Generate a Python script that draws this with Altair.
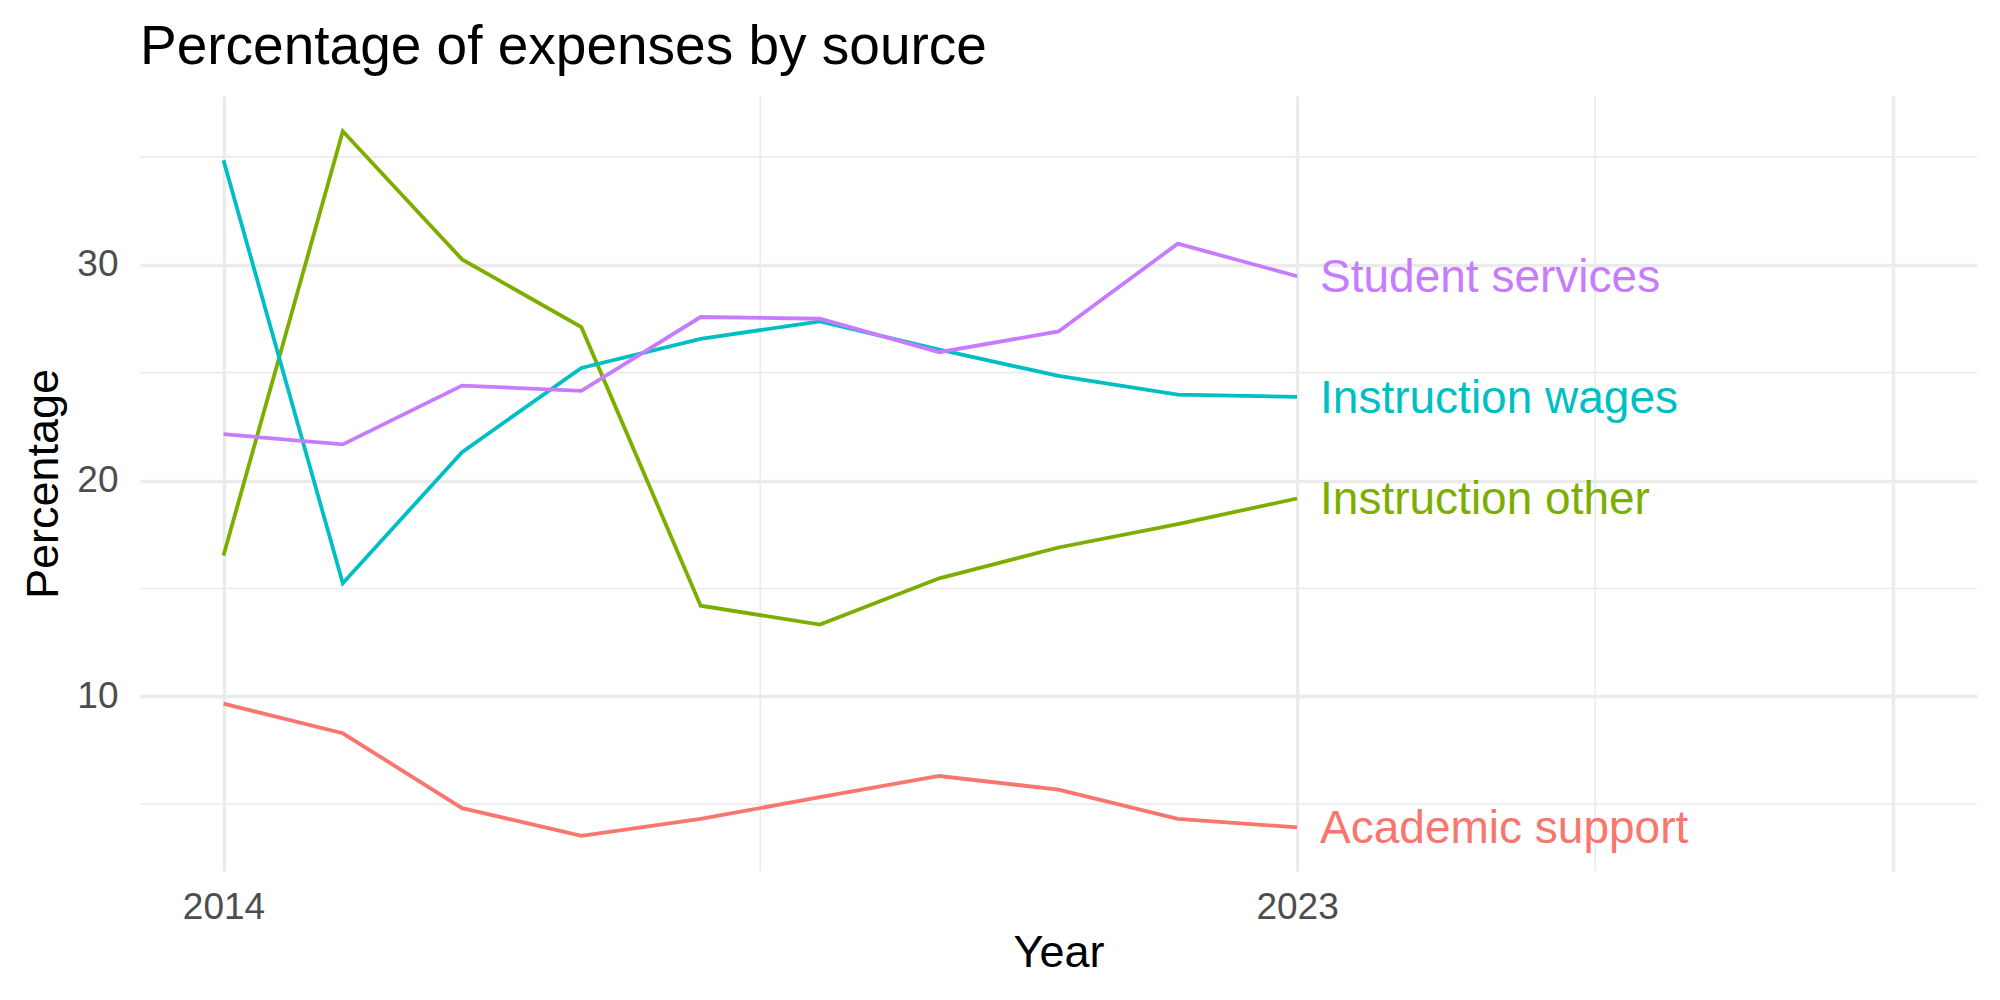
import altair as alt
import pandas as pd

years = [2014, 2015, 2016, 2017, 2018, 2019, 2020, 2021, 2022, 2023]
sources = ["Academic support", "Instruction other", "Instruction wages", "Student services"]
academic_support = [9.66, 8.29, 4.82, 3.54, 4.32, 5.33, 6.31, 5.68, 4.32, 3.93]
instruction_other = [16.53, 36.19, 30.25, 27.11, 14.20, 13.33, 15.47, 16.90, 17.98, 19.17]
instruction_wages = [34.84, 15.24, 21.32, 25.22, 26.57, 27.38, 26.07, 24.85, 23.98, 23.88]
student_services = [22.15, 21.68, 24.40, 24.16, 27.58, 27.50, 25.95, 26.91, 30.98, 29.47]
colors = ["#F8766D", "#7CAE00", "#00BFC4", "#C77CFF"]

x_breaks = [2014, 2023, 2028]
x_minor = [2018.5, 2025.5]
y_breaks = [10, 20, 30]
y_minor = [5, 15, 25, 35]

series = [academic_support, instruction_other, instruction_wages, student_services]
rows = []
for s, vals in zip(sources, series):
    for yr, v in zip(years, vals):
        rows.append({"year": yr, "value": v, "source": s})
df = pd.DataFrame(rows)
last = df[df["year"] == max(years)]

# ggplot-like 5% expansion
xlo, xhi = min(x_breaks), max(x_breaks)
xpad = 0.05 * (xhi - xlo)
ylo, yhi = df["value"].min(), df["value"].max()
ypad = 0.05 * (yhi - ylo)

FONT = "Liberation Sans"
GRID = "#EBEBEB"

xscale = alt.Scale(domain=[xlo - xpad, xhi + xpad], nice=False, zero=False)
yscale = alt.Scale(domain=[ylo - ypad, yhi + ypad], nice=False, zero=False)

xaxis = alt.Axis(values=x_breaks, title="Year", grid=True, gridColor=GRID, gridWidth=3.4,
                 domain=False, ticks=False, tickSize=0, labelFontSize=37, labelColor="#4D4D4D",
                 labelFont=FONT, labelPadding=18, format="d",
                 labelExpr="datum.value == 2028 ? '' : datum.label",
                 titleFont=FONT, titleFontSize=45, titleFontWeight="normal", titleColor="black",
                 titleY=95, titleBaseline="alphabetic")
yaxis = alt.Axis(values=y_breaks, title="Percentage", grid=True, gridColor=GRID, gridWidth=3.4,
                 domain=False, ticks=False, tickSize=0, labelFontSize=37, labelColor="#4D4D4D",
                 labelFont=FONT, labelPadding=22,
                 titleFont=FONT, titleFontSize=45, titleFontWeight="normal", titleColor="black",
                 titleX=-83, titleY=387.5, titleAngle=270, titleAlign="center",
                 titleBaseline="alphabetic")

color = alt.Color("source:N", scale=alt.Scale(domain=sources, range=colors), legend=None)

vminor = alt.Chart(pd.DataFrame({"year": x_minor})).mark_rule(
    color=GRID, strokeWidth=1.7).encode(x=alt.X("year:Q", scale=xscale, axis=xaxis))
hminor = alt.Chart(pd.DataFrame({"value": y_minor})).mark_rule(
    color=GRID, strokeWidth=1.7).encode(y=alt.Y("value:Q", scale=yscale, axis=yaxis))

lines = alt.Chart(df).mark_line(strokeWidth=3.8).encode(
    x=alt.X("year:Q", scale=xscale, axis=xaxis),
    y=alt.Y("value:Q", scale=yscale, axis=yaxis),
    color=color,
)

labels = alt.Chart(last).mark_text(align="left", baseline="middle", dx=23, dy=2,
                                   fontSize=46, font=FONT).encode(
    x=alt.X("year:Q", scale=xscale, axis=xaxis),
    y=alt.Y("value:Q", scale=yscale, axis=yaxis),
    text="source:N",
    color=color,
)

chart = alt.layer(vminor, hminor, lines, labels).properties(
    width=1837, height=775,
    background="white",
    autosize=alt.AutoSizeParams(type="none"),
    padding={"left": 140, "top": 96, "right": 23, "bottom": 129},
    title=alt.TitleParams("Percentage of expenses by source", anchor="start", frame="group",
                          font=FONT, fontSize=55, fontWeight="normal", color="black", offset=19),
).configure_view(stroke="transparent", strokeWidth=0)

chart.save("out.html", embed_options={"renderer": "svg", "actions": False})
